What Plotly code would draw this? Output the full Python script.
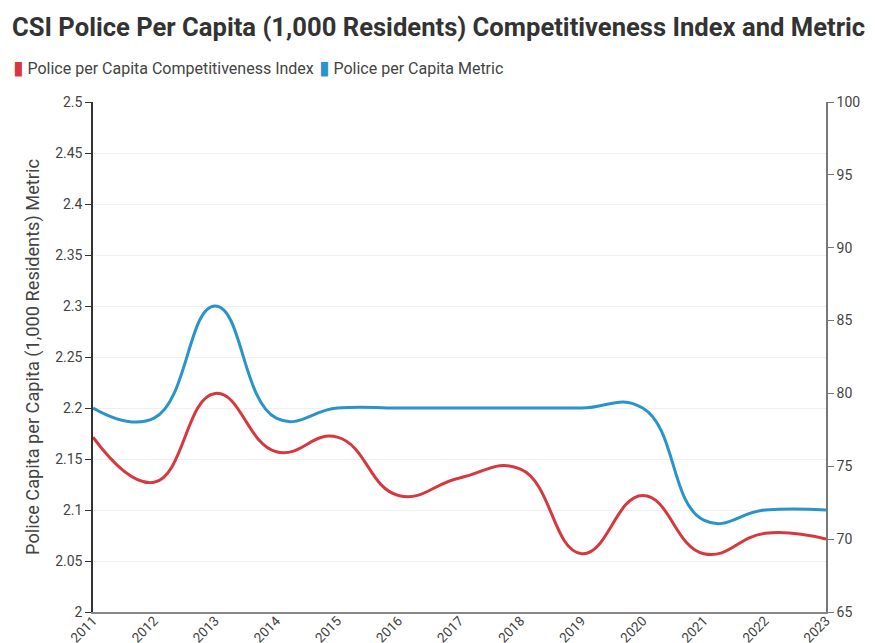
import plotly.graph_objects as go

years = [str(y) for y in range(2011, 2024)]
index_values = [77, 73.9, 80, 76, 77, 73, 74.2, 74.8, 69, 73, 69, 70.4, 70]
metric_values = [2.2, 2.19, 2.3, 2.19, 2.2, 2.2, 2.2, 2.2, 2.2, 2.2, 2.09, 2.1, 2.1]
series_names = ["Police per Capita Competitiveness Index", "Police per Capita Metric"]

red = "#d6383f"
blue = "#2a93c9"
font = "Roboto"

# the page body adds an 8px offset; size the figure so the plot lands where the reference has it
W, H = 867, 635
L, R, T, B = 85, 49, 94, 31
plot_w = W - L - R
plot_h = H - T - B


def legend_label(color, name):
    return (f'<span style="color:{color};font-family:DejaVu Sans;font-size:19px">▮</span>'
            f' {name}')


fig = go.Figure()
fig.add_trace(go.Scatter(
    x=years, y=index_values, mode="lines", yaxis="y2",
    line=dict(color=red, width=3, shape="spline", smoothing=1.3),
    name=series_names[0], showlegend=False,
))
fig.add_trace(go.Scatter(
    x=years, y=metric_values, mode="lines", yaxis="y",
    line=dict(color=blue, width=3, shape="spline", smoothing=1.3),
    name=series_names[1], showlegend=False,
))
# legend entries (swatch drawn as a coloured block glyph in the label)
for color, name in [(red, series_names[0]), (blue, series_names[1])]:
    fig.add_trace(go.Scatter(
        x=[None], y=[None], mode="markers",
        marker=dict(symbol="square", size=1, color="rgba(0,0,0,0)"),
        name=legend_label(color, name),
    ))

fig.update_layout(
    width=W, height=H,
    margin=dict(l=L, r=R, t=T, b=B, autoexpand=False),
    paper_bgcolor="white", plot_bgcolor="white",
    font=dict(family=font, size=13, color="#444"),
    title=dict(
        text="<b>CSI Police Per Capita (1,000 Residents) Competitiveness Index and Metric</b>",
        xref="container", x=4/W, xanchor="left",
        yref="container", y=1-19/H, yanchor="middle",
        pad=dict(l=0, r=0, t=0, b=0),
        font=dict(family=font, size=25.6, color="#333"),
    ),
    legend=dict(
        orientation="h",
        xref="paper", x=(-35 - L) / plot_w, xanchor="left",
        yref="paper", y=(H - B - 60) / plot_h, yanchor="middle",
        font=dict(family=font, size=16, color="#444"),
        itemwidth=30, tracegroupgap=0,
        entrywidth=261, entrywidthmode="pixels",
        bgcolor="rgba(0,0,0,0)",
    ),
    xaxis=dict(
        type="category", range=[0, 12], automargin=False,
        showgrid=False, showline=True, linecolor="#888", linewidth=1.5,
        ticks="", tickangle=-45, tickfont=dict(size=13.5, color="#444"),
        ticklabelstandoff=-6,
        zeroline=False,
    ),
    yaxis=dict(
        range=[2, 2.5], dtick=0.05, tick0=2, automargin=False,
        showgrid=True, gridcolor="#f0f0f0", gridwidth=1,
        showline=True, linecolor="#333", linewidth=1.5,
        ticks="outside", ticklen=6, tickcolor="#333",
        tickfont=dict(size=14, color="#444"),
        title=dict(text="Police Capita per Capita (1,000 Residents) Metric",
                   font=dict(size=18.2, color="#444"), standoff=11),
        zeroline=False,
    ),
    yaxis2=dict(
        range=[65, 100], dtick=5, overlaying="y", side="right", automargin=False,
        showgrid=False, showline=True, linecolor="#777", linewidth=1.5,
        ticks="outside", ticklen=6, tickcolor="#777",
        tickfont=dict(size=14, color="#444"),
        zeroline=False,
    ),
)

fig.write_html("out.html")
